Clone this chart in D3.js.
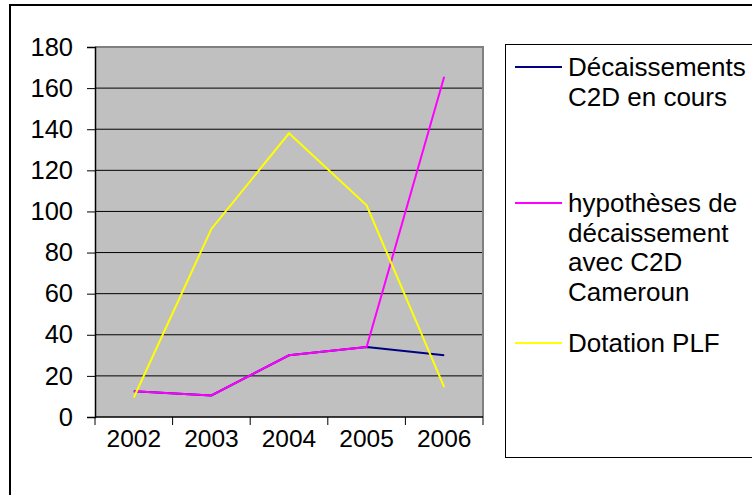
<!DOCTYPE html>
<html><head><meta charset="utf-8">
<script src="https://cdn.jsdelivr.net/npm/d3@7"></script>
<style>
html,body{margin:0;padding:0;background:#fff;}
svg{display:block;}
text{font-family:Arial,"Liberation Sans",sans-serif;fill:#000;}
</style></head>
<body>
<svg id="c" width="752" height="495"></svg>
<script>
const years = ["2002","2003","2004","2005","2006"];
const decaissementsEnCours = [12.5, 10.5, 30, 34, 30];
const hypotheses = [12.5, 10.5, 30, 34, 165.5];
const dotationPLF = [9.5, 91.5, 138, 103, 14.5];
const yTicks = [0,20,40,60,80,100,120,140,160,180];
const seriesNames = [["Décaissements","C2D en cours"],["hypothèses de","décaissement","avec C2D","Cameroun"],["Dotation PLF"]];
const seriesColors = ["#000080","#FF00FF","#FFFF00"];

const svg = d3.select("#c");
const FS = 25.5, FSX = 24.5, FSL = 26;
const L = 95, R = 483, T = 47, B = 417;

// outer chart border
svg.append("rect").attr("x",10).attr("y",5).attr("width",760).attr("height",520)
  .attr("fill","none").attr("stroke","#000").attr("stroke-width",2);

const x = d3.scaleBand().domain(years).range([L,R]).padding(0);
const y = d3.scaleLinear().domain([0,180]).range([B,T]);

// plot area
svg.append("rect").attr("x",L).attr("y",T).attr("width",R-L).attr("height",B-T).attr("fill","#C0C0C0");

// gridlines
svg.append("g").selectAll("line").data(yTicks.filter(d=>d>0)).join("line")
  .attr("x1",L).attr("x2",R).attr("y1",d=>y(d)).attr("y2",d=>y(d))
  .attr("stroke","#000").attr("stroke-width",1);

// plot border top/right
svg.append("path").attr("d",`M${L},${T}H${R}V${B}`).attr("fill","none").attr("stroke","#808080").attr("stroke-width",2);

// y axis
const ya = svg.append("g").attr("transform",`translate(${L},0)`)
  .call(d3.axisLeft(y).tickValues(yTicks).tickSize(8).tickPadding(14));
ya.select(".domain").attr("stroke","#000").attr("stroke-width",1.5);
ya.selectAll(".tick line").attr("stroke","#000");
ya.selectAll("text").attr("font-size",FS).attr("font-family","Arial, 'Liberation Sans', sans-serif").attr("fill","#000");

// x axis: boundary ticks
const bounds = years.map(d=>x(d)).concat([x(years[years.length-1])+x.bandwidth()]);
svg.append("line").attr("x1",L).attr("x2",R).attr("y1",B).attr("y2",B).attr("stroke","#000").attr("stroke-width",1.5);
svg.append("g").selectAll("line").data(bounds).join("line")
  .attr("x1",d=>d).attr("x2",d=>d).attr("y1",B).attr("y2",B+8).attr("stroke","#000");
svg.append("g").selectAll("text").data(years).join("text")
  .attr("x",d=>x(d)+x.bandwidth()/2).attr("y",447).attr("text-anchor","middle")
  .attr("font-size",FSX).text(d=>d);

// lines
const line = d3.line().x((d,i)=>x(years[i])+x.bandwidth()/2).y(d=>y(d));
[decaissementsEnCours, hypotheses, dotationPLF].forEach((s,k)=>{
  svg.append("path").datum(s).attr("d",line).attr("fill","none")
    .attr("stroke",seriesColors[k]).attr("stroke-width",2);
});

// legend
svg.append("rect").attr("x",505.5).attr("y",44.5).attr("width",300).attr("height",413)
  .attr("fill","#fff").attr("stroke","#000").attr("stroke-width",1);
const legendY = [67, 203, 343];
const lh = 29.5;
seriesNames.forEach((lines,k)=>{
  const g = svg.append("g");
  g.append("line").attr("x1",515).attr("x2",562).attr("y1",legendY[k]).attr("y2",legendY[k])
    .attr("stroke",seriesColors[k]).attr("stroke-width",2);
  lines.forEach((t,j)=>{
    g.append("text").attr("x",568).attr("y",legendY[k]+j*lh).attr("dy","0.35em")
      .attr("font-size",FSL).text(t);
  });
});
</script>
</body></html>
